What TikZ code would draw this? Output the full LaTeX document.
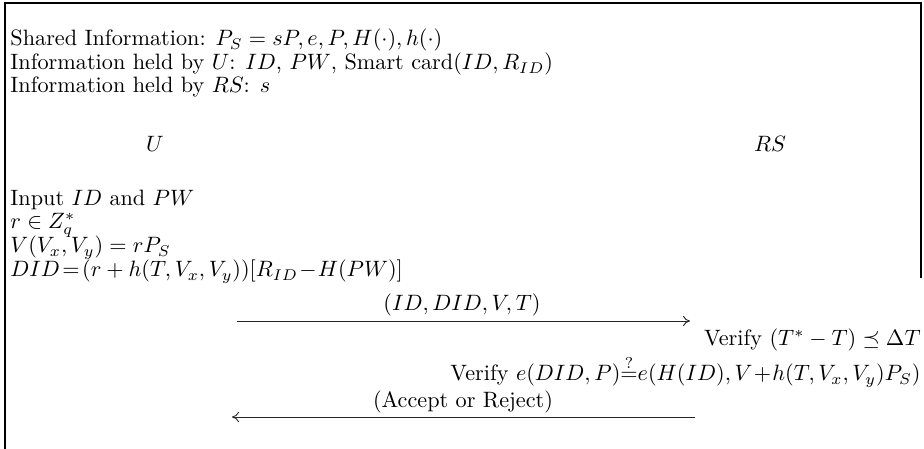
\documentclass[tikz,border=0pt]{standalone}
\usepackage{amsmath,amssymb}
\usepackage{tikz}
\usetikzlibrary{positioning,arrows.meta,calc}
\tikzset{
  leftline/.style={anchor=base west,inner sep=0pt},
  rightline/.style={anchor=base east,inner sep=0pt},
  party/.style={anchor=base,inner sep=0pt},
  msglabel/.style={anchor=base,inner sep=0pt},
  msg/.style={-{To[length=1.1mm,width=1.6mm]},line width=0.4pt,draw=black!85},
  frameline/.style={line width=1pt,draw=black}
}

\begin{document}
\begin{tikzpicture}[x=0.45pt,y=-0.45pt]
      \useasboundingbox (0,0) rectangle (924,449);
      % frame
      \draw[frameline] (5,449) -- (5,3) -- (921,3) -- (921,278);

      % shared data
      \node[leftline] (shared) at (10,46) {Shared Information: $P_S=sP,e,P,H(\cdot),h(\cdot)$};
      \node[leftline] (heldU) at (10,70) {Information held by $U$: $ID$, $PW$, Smart card$(ID,R_{ID})$};
      \node[leftline] (heldRS) at (10,93) {Information held by $RS$: $s$};

      \node[party] (user) at (155,152) {$U$};
      \node[party] (server) at (770,152) {$RS$};

      % user side
      \node[leftline] (input) at (10,206) {Input $ID$ and $PW$};
      \node[leftline] (rand) at (10,229) {$r\in Z_q^*$};
      \node[leftline] (vpt) at (10,253) {$V(V_x,V_y)=rP_S$};
      \node[leftline] (did) at (10,277) {$DID\!=\!(r+h(T,V_x,V_y))[R_{ID}\!-\!H(PW)]$};

      \coordinate (m1s) at (237,321);
      \coordinate (m1e) at (690,321);
      \draw[msg] (m1s) -- (m1e);
      \node[msglabel] (m1) at (462,311) {$(ID,DID,V,T)$};

      % server side
      \node[rightline] (vtime) at (921,346) {Verify $(T^*-T)\preceq\Delta T$};
      \node[rightline] (vpair) at (921,381) {Verify $e(DID,P){\overset{?}{=}}e(H(ID),V\!+\!h(T,V_x,V_y)P_S)$};

      \coordinate (m2s) at (695,417);
      \coordinate (m2e) at (232,417);
      \draw[msg] (m2s) -- (m2e);
      \node[msglabel] (m2) at (463,407) {(Accept or Reject)};
\end{tikzpicture}
\end{document}
